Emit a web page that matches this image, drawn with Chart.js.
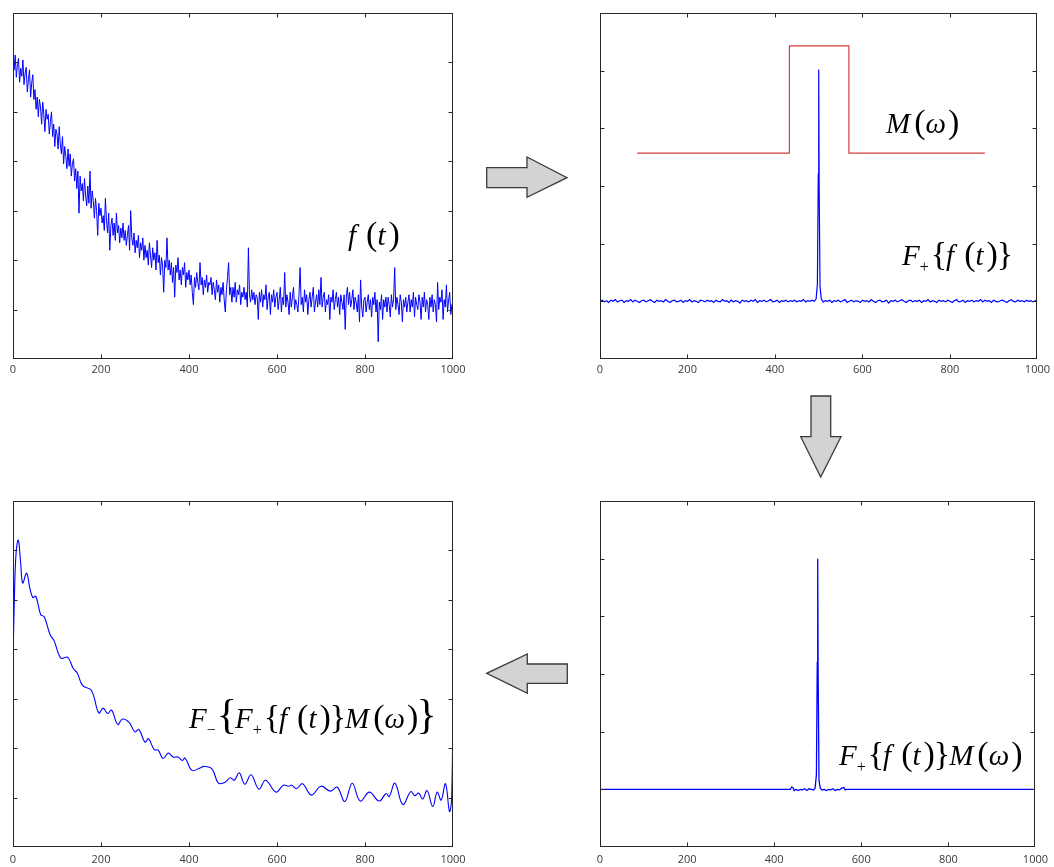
<!DOCTYPE html>
<html><head><meta charset="utf-8">
<script src="https://cdn.jsdelivr.net/npm/chart.js@4.4.1/dist/chart.umd.min.js"></script>
<style>
html,body{margin:0;padding:0;background:#fff}
body{width:1054px;height:867px;position:relative;overflow:hidden}
canvas{position:absolute}
.lbl{position:absolute;font-family:'Liberation Serif','Times New Roman',serif;font-size:29px;line-height:1;white-space:nowrap;color:#000}
.lbl i{font-style:italic}
.lbl i.f{margin-right:10px}
.lbl i.t{margin-right:3px}
.lbl i.m{margin-right:4px}
.lbl i.w{margin-right:2px}
.p{font-size:34px}
.b{font-size:34px;margin:0 -1px}
.bb{font-size:42px;margin:0 -2px}
.sub{font-size:16px;vertical-align:-7px;margin:0 3px 0 0}
.bl{display:inline-block;width:0;height:0}
svg{position:absolute;left:0;top:0}
</style></head>
<body>
<canvas id="c1" width="473" height="380" style="left:0;top:0"></canvas>
<canvas id="c2" width="474" height="380" style="left:580px;top:0"></canvas>
<canvas id="c3" width="473" height="387" style="left:0;top:480px"></canvas>
<canvas id="c4" width="474" height="387" style="left:580px;top:480px"></canvas>

<svg width="1054" height="867">
  <g fill="#d3d3d3" stroke="#3a3a3a" stroke-width="1.3" stroke-linejoin="miter">
    <polygon points="486.7,167.7 527,167.7 527,157 567,177.7 527,197.3 527,187.7 486.7,187.7"/>
    <polygon points="811,396 830.7,396 830.7,436.7 841,436.7 820.7,477 800.7,436.7 811,436.7"/>
    <polygon points="567.3,664 527.3,664 527.3,654 486.7,673.3 527.3,693.3 527.3,683.3 567.3,683.3"/>
  </g>
</svg>

<div class="lbl" data-x="348" data-y="245"><span class="bl"></span><i class="f">f</i><span class="p">(</span><i class="t">t</i><span class="p">)</span></div>
<div class="lbl" data-x="886" data-y="133"><span class="bl"></span><i class="m">M</i><span class="p">(</span><i class="w">ω</i><span class="p">)</span></div>
<div class="lbl" data-x="902" data-y="265"><span class="bl"></span><i>F</i><span class="sub">+</span><span class="b">{</span><i class="f">f</i><span class="p">(</span><i class="t">t</i><span class="p">)</span><span class="b">}</span></div>
<div class="lbl" data-x="189" data-y="728"><span class="bl"></span><i>F</i><span class="sub">−</span><span class="bb">{</span><i>F</i><span class="sub">+</span><span class="b">{</span><i class="f">f</i><span class="p">(</span><i class="t">t</i><span class="p">)</span><span class="b">}</span><i class="m">M</i><span class="p">(</span><i class="w">ω</i><span class="p">)</span><span class="bb">}</span></div>
<div class="lbl" data-x="839" data-y="765"><span class="bl"></span><i>F</i><span class="sub">+</span><span class="b">{</span><i class="f">f</i><span class="p">(</span><i class="t">t</i><span class="p">)</span><span class="b">}</span><i class="m">M</i><span class="p">(</span><i class="w">ω</i><span class="p">)</span></div>

<script>
// ---------------- DATA ----------------
const timeTicks = [0, 200, 400, 600, 800, 1000];

// Panel 1: noisy signal f(t), one value every 2.5 units from t = 0 to 1000
const signalStep = 2.5;
const signalValues = [
 6.02,5.85,6.15,5.70,5.95,6.08,5.60,5.88,5.72,6.05,5.55,5.78,5.90,5.40,5.65,5.85,5.30,5.58,5.75,5.25,
 5.45,5.05,5.30,4.90,5.25,5.10,4.75,5.20,4.95,4.60,5.05,4.85,4.95,4.55,4.80,5.00,4.50,4.75,4.30,4.65,
 4.55,4.25,4.70,4.35,4.15,4.50,3.95,4.30,4.10,3.85,4.25,3.90,4.15,3.70,3.95,4.05,3.60,3.85,3.45,3.80,
 2.95,3.70,3.40,3.55,3.20,3.65,3.30,3.10,3.50,3.15,3.80,3.05,3.40,3.20,2.85,3.25,3.00,2.50,3.15,2.90,
 3.05,2.75,2.90,2.60,3.25,2.80,2.55,2.95,2.20,2.70,2.85,2.50,2.75,2.40,2.95,2.55,2.70,2.35,2.65,2.45,
 2.75,2.40,2.60,2.30,2.50,2.70,2.20,3.00,2.45,2.30,2.55,2.15,2.40,2.25,2.50,2.05,2.35,2.20,2.45,2.00,
 2.30,2.05,2.20,1.90,2.35,2.10,1.85,2.25,2.00,2.15,1.80,2.40,1.95,2.10,1.70,2.05,1.90,1.35,2.00,1.85,
 2.45,1.80,2.00,1.70,1.95,1.55,1.85,1.25,1.90,1.75,2.05,1.60,1.80,1.50,1.85,1.70,1.95,1.45,1.75,1.60,
 1.80,1.50,1.70,1.35,1.10,1.65,1.45,1.75,1.55,1.40,1.95,1.50,1.65,1.30,1.60,1.45,1.70,1.35,1.55,1.50,
 1.65,1.30,1.55,1.40,1.20,1.60,1.35,1.50,1.15,1.45,1.30,1.55,1.20,0.95,1.40,1.65,1.95,1.30,1.45,1.15,
 1.45,1.25,1.55,1.15,1.40,1.30,1.50,1.10,1.35,1.25,1.45,1.20,1.35,1.05,2.25,1.30,1.15,1.40,1.20,1.35,
 1.10,1.30,1.25,0.80,1.35,1.15,1.40,1.05,1.30,1.20,1.50,1.00,1.25,1.35,0.90,1.30,1.15,1.40,1.05,1.25,
 1.35,1.00,1.20,1.45,0.95,1.25,1.10,1.75,1.05,1.30,1.15,0.90,1.35,1.05,1.25,1.45,1.00,1.20,1.10,0.95,
 1.30,1.85,1.10,1.25,0.95,1.40,1.15,1.30,0.90,1.20,1.35,1.05,1.25,1.45,0.95,1.15,1.30,1.05,1.40,1.10,
 1.65,1.05,1.25,1.35,0.95,1.20,1.10,1.30,0.80,1.25,1.15,1.40,1.00,1.20,1.35,1.05,1.25,0.90,1.30,1.15,
 1.00,1.30,0.60,1.25,1.45,1.10,1.35,1.05,1.20,1.40,1.00,1.25,1.15,0.95,1.30,0.75,1.60,1.05,0.85,1.20,
 1.25,0.95,1.15,1.30,1.00,1.20,0.85,1.25,1.10,1.35,0.95,1.20,0.35,1.15,1.00,1.30,0.80,1.20,1.05,1.25,
 0.95,1.25,1.10,0.85,1.30,1.05,1.20,1.85,1.00,1.25,1.10,0.90,1.30,1.15,0.75,1.20,1.05,1.25,0.95,1.15,
 1.30,0.95,1.20,1.05,1.35,0.85,1.25,1.10,1.00,1.30,1.15,0.80,1.25,1.05,1.35,0.95,1.20,1.10,0.80,1.25,
 1.05,1.30,0.95,1.20,1.10,0.75,1.55,1.00,1.25,1.15,1.40,0.80,1.20,1.05,1.50,0.95,1.20,1.35,0.90,1.10,
 1.15
];

// Panel 2: spectrum F+{f(t)} (noise floor every 5 units, plus the central peak) and mask M(ω)
const spectrumStep = 5;
const spectrumLowStart = 0;      // floor values for ω = 0 … 490
const spectrumLowValues = [
 1.00,1.02,0.99,1.01,0.98,1.02,1.00,1.03,0.99,1.01,
 1.02,0.98,1.01,1.00,1.03,0.99,1.02,1.00,0.98,1.01,
 1.02,0.99,1.01,1.03,1.00,0.98,1.02,1.00,1.01,0.99,
 1.03,1.00,0.98,1.01,1.02,0.99,1.00,1.02,0.98,1.01,
 1.00,1.03,0.99,1.01,1.00,0.98,1.02,1.01,0.99,1.02,
 1.00,1.01,0.98,1.02,1.00,0.99,1.03,1.00,1.01,0.98,
 1.02,0.99,1.01,1.00,0.97,1.02,1.00,1.01,0.99,1.02,
 1.00,1.03,0.98,1.01,1.00,1.02,0.99,1.01,1.03,0.99,
 1.00,1.02,0.98,1.01,1.00,1.02,0.99,1.01,1.00,1.02,
 0.99,1.01,1.00,1.03,0.99,1.01,1.00,1.02,1.00
];
const spectrumPeakFreq   = [494, 497, 499, 500, 501, 503, 506];
const spectrumPeakValues = [1.04, 1.30, 3.20, 5.02, 3.00, 1.25, 1.04];
const spectrumHighStart = 510;   // floor values for ω = 510 … 1000
const spectrumHighValues = [
 0.99,1.01,1.00,1.02,0.98,1.01,1.00,1.02,0.99,1.01,
 1.03,0.98,1.00,1.02,0.99,1.01,1.00,0.98,1.02,1.00,
 1.01,0.99,1.03,1.00,0.98,1.01,1.02,0.99,1.00,1.02,
 0.97,1.01,1.00,1.02,0.99,1.01,1.03,1.00,0.98,1.01,
 1.02,0.99,1.01,1.00,1.02,0.98,1.01,1.00,1.03,0.99,
 1.01,1.00,0.98,1.02,1.00,1.01,0.99,1.02,1.00,0.98,
 1.01,1.03,0.99,1.00,1.02,0.98,1.01,1.00,1.02,0.99,
 1.01,1.00,1.03,0.99,1.02,1.00,1.01,0.98,1.02,1.00,
 0.99,1.01,1.02,1.00,0.98,1.01,1.03,1.00,0.99,1.02,
 1.00,1.01,0.99,1.02,1.00,1.01,0.99,1.01,1.00
];
const maskFreq   = [85, 433, 433, 569, 569, 880];
const maskValues = [3.57, 3.57, 5.43, 5.43, 3.57, 3.57];

// Panel 4: masked spectrum F+{f(t)} M(ω)
const maskedFreq   = [0,437,440,443,446,450,455,460,465,470,475,480,485,490,494,497,499,500,501,503,506,510,515,520,525,530,535,540,545,550,555,560,563,566,1000];
const maskedValues = [1.00,1.00,1.04,1.03,0.98,1.00,0.98,1.00,0.99,1.01,0.98,1.01,1.00,0.99,1.02,1.25,3.20,5.00,3.00,1.15,1.02,0.99,1.00,0.98,1.00,0.99,1.01,0.98,1.00,0.99,1.02,1.03,0.99,1.00,1.00];

// Panel 3: filtered signal F-{F+{f(t)} M(ω)}
const filteredTime = [0,3,7,12,17,22,31,38,45,52,63,71,84,93,109,124,137,146,158,178,195,205,215,224,238,249,264,277,286,300,308,321,330,341,353,364,375,385,391,407,425,434,452,467,482,494,503,514,527,541,559,574,598,614,626,634,644,658,678,700,721,737,754,771,789,810,832,848,855,868,886,904,913,922,931,941,954,964,973,983,992,997,1000];
const filteredValues = [3.72,5.00,5.95,6.21,5.80,5.34,5.54,5.25,5.05,5.07,4.70,4.66,4.30,4.18,3.82,3.84,3.61,3.52,3.27,3.17,2.71,2.81,2.70,2.77,2.48,2.59,2.52,2.33,2.38,2.12,2.19,1.97,1.96,1.79,1.90,1.82,1.82,1.75,1.80,1.55,1.60,1.63,1.58,1.29,1.31,1.40,1.35,1.50,1.27,1.46,1.17,1.35,1.11,1.25,1.23,1.25,1.18,1.28,1.05,1.23,1.13,1.21,0.92,1.29,0.93,1.11,0.93,1.08,1.02,1.29,0.86,1.12,1.04,1.09,0.97,1.14,0.82,1.11,0.95,1.28,0.72,1.00,3.24];

// ---------------- CHARTS ----------------
const BLUE = '#0000ff';
const RED = '#d83c3c';

const frame = {
  id: 'frame',
  afterDraw(chart) {
    const {ctx, chartArea: a} = chart;
    const xs = chart.scales.x, ys = chart.scales.y;
    const L = Math.round(a.left) + 0.5, R = Math.round(a.right) - 0.5;
    const T = Math.round(a.top) + 0.5, B = Math.round(a.bottom) - 0.5;
    ctx.save();
    ctx.strokeStyle = '#262626';
    ctx.lineWidth = 1;
    ctx.strokeRect(L, T, R - L, B - T);
    ctx.beginPath();
    xs.ticks.forEach(t => {
      const px = Math.round(xs.getPixelForValue(t.value)) + 0.5;
      if (px <= L + 1 || px >= R - 1) return;
      ctx.moveTo(px, T); ctx.lineTo(px, T + 4);
      ctx.moveTo(px, B); ctx.lineTo(px, B - 4);
    });
    for (let v = ys.min + 1; v < ys.max; v++) {
      const py = Math.round(ys.getPixelForValue(v)) + 0.5;
      ctx.moveTo(L, py); ctx.lineTo(L + 4, py);
      ctx.moveTo(R, py); ctx.lineTo(R - 4, py);
    }
    ctx.stroke();
    ctx.restore();
  }
};

function pts(xs, ys) { return xs.map((x, i) => ({x: x, y: ys[i]})); }
function stepped(start, step, ys) { return ys.map((y, i) => ({x: start + i * step, y: y})); }

function makeChart(id, datasets, yMax, pad, axisH, labelPad) {
  return new Chart(document.getElementById(id), {
    type: 'line',
    data: {datasets: datasets},
    options: {
      responsive: false,
      animation: false,
      events: [],
      layout: {padding: pad},
      plugins: {legend: {display: false}, tooltip: {enabled: false}},
      elements: {point: {radius: 0}, line: {borderWidth: 1}},
      scales: {
        x: {
          type: 'linear', min: 0, max: 1000,
          afterBuildTicks: s => { s.ticks = timeTicks.map(v => ({value: v})); },
          ticks: {font: {family: "'Open Sans', 'DejaVu Sans', sans-serif", size: 11}, color: '#3a3a3a', padding: labelPad, maxRotation: 0, autoSkip: false, callback: v => String(v)},
          grid: {display: false, drawTicks: false},
          border: {display: false},
          afterFit: s => { s.height = axisH; }
        },
        y: {type: 'linear', min: 0, max: yMax, display: false}
      }
    },
    plugins: [frame]
  });
}

const spectrumPoints = stepped(spectrumLowStart, spectrumStep, spectrumLowValues)
  .concat(pts(spectrumPeakFreq, spectrumPeakValues))
  .concat(stepped(spectrumHighStart, spectrumStep, spectrumHighValues));

makeChart('c1', [
  {data: stepped(0, signalStep, signalValues), borderColor: BLUE, borderWidth: 1, tension: 0}
], 7, {left: 13, right: 20, top: 13, bottom: 0}, 21, 4);

makeChart('c2', [
  {data: pts(maskFreq, maskValues), borderColor: RED, borderWidth: 1.2, tension: 0},
  {data: spectrumPoints, borderColor: BLUE, borderWidth: 1.2, tension: 0}
], 6, {left: 20, right: 14, top: 13, bottom: 0}, 21, 4);

makeChart('c3', [
  {data: pts(filteredTime, filteredValues), borderColor: BLUE, borderWidth: 1.1, tension: 0.4}
], 7, {left: 13, right: 20, top: 21, bottom: 0}, 20, 6);

makeChart('c4', [
  {data: pts(maskedFreq, maskedValues), borderColor: BLUE, borderWidth: 1.3, tension: 0}
], 6, {left: 20, right: 14, top: 21, bottom: 0}, 20, 6);

// ---------------- place math labels on their baselines ----------------
function placeLabels() {
  document.querySelectorAll('.lbl').forEach(el => {
    el.style.left = el.dataset.x + 'px';
    el.style.top = '0px';
    const m = el.querySelector('.bl').getBoundingClientRect();
    el.style.top = (+el.dataset.y - m.top) + 'px';
  });
}
placeLabels();
if (document.fonts && document.fonts.ready) document.fonts.ready.then(placeLabels);
</script>
</body></html>
